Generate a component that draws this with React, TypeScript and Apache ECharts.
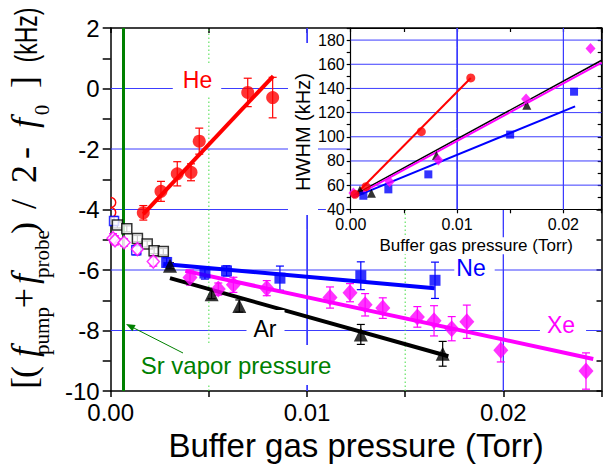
import React, { useEffect, useRef } from "react";
import * as echarts from "echarts";

const SANS = '"Liberation Sans", Arial, sans-serif';
const SERIF = '"Liberation Serif", "Times New Roman", serif';

// ---------- main plot: line-centre shift (kHz) vs buffer gas pressure (Torr) ----------
const heP = [0.00166, 0.00256, 0.00339, 0.00409, 0.00451, 0.00698, 0.00825];
const heShift = [-4.11, -3.4, -2.82, -2.77, -1.74, -0.13, -0.3];
const heErr = [0.24, 0.33, 0.4, 0.28, 0.43, 0.47, 0.67];
const heFitP = [0.00166, 0.00828];
const heFitShift = [-4.15, 0.41];

const neP = [0.00285, 0.0048, 0.0059, 0.00862, 0.01274, 0.01652];
const neShift = [-5.75, -6.1, -6.03, -6.27, -6.19, -6.34];
const neErr = [0.15, 0.2, 0.17, 0.4, 0.46, 0.6];
const neFitP = [0.00268, 0.0165];
const neFitShift = [-5.8, -6.6];

const xeP = [0.00404, 0.00548, 0.00625, 0.00795, 0.01117, 0.01219, 0.01296, 0.01386, 0.01562, 0.01647, 0.01737, 0.01814, 0.01987, 0.02421];
const xeShift = [-6.25, -6.63, -6.49, -6.6, -6.91, -6.75, -7.15, -7.26, -7.55, -7.68, -7.94, -7.71, -8.65, -9.34];
const xeErr = [0.25, 0.2, 0.25, 0.25, 0.35, 0.3, 0.37, 0.34, 0.34, 0.5, 0.4, 0.55, 0.39, 0.6];
const xeFitP = [0.0038, 0.02458];
const xeFitShift = [-6.03, -8.94];

const arP = [0.00302, 0.00514, 0.00655, 0.01274, 0.01691];
const arShift = [-5.86, -6.8, -7.19, -8.13, -8.77];
const arErr = [0.1, 0.15, 0.2, 0.33, 0.41];
const arFitP = [0.00302, 0.0172];
const arFitShift = [-6.27, -8.85];

// low-pressure open symbols
const openSqP = [0.00034, 0.00082, 0.00136, 0.00186, 0.00221, 0.00268];
const openSqShift = [-4.51, -4.64, -4.96, -5.14, -5.36, -5.39];
const openSqErr = [0.1, 0.1, 0.1, 0.1, 0.1, 0.1];
const openDiaP = [0.00012, 0.00022, 0.00068, 0.00136, 0.00217];
const openDiaShift = [-4.95, -5.02, -5.09, -5.31, -5.72];
const openDiaErr = [0.15, 0.15, 0.12, 0.15, 0.15];
const openBlueP = [0.00017, 0.0013];
const openBlueShift = [-4.38, -5.35];
const openBlueErr = [0.15, 0.15];
const openRedP = [0, 0];
const openRedShift = [-3.77, -4.1];

const srVaporP = 0.00064;

// axis ranges and grid lines
const mainXRange = [0, 0.025];
const mainYRange = [-10, 2];
const mainHGrid = [0, -2, -4, -6, -8];
const mainVGridSolid = [0.01, 0.02];
const mainVGridDotted = [0.005, 0.015];

// ---------- inset: HWHM (kHz) vs buffer gas pressure (Torr) ----------
const inHeP = [0.0004, 0.00144, 0.00664, 0.01129];
const inHeW = [52.4, 58.7, 104.2, 148.7];
const inHeFitP = [0.00025, 0.01129];
const inHeFitW = [50.4, 148.6];
const inNeP = [0.00119, 0.00354, 0.0073, 0.01499, 0.021];
const inNeW = [51.2, 56.5, 68.9, 101.8, 137.3];
const inNeFitP = [0.00025, 0.0211];
const inNeFitW = [49.9, 125.2];
const inXeP = [0.00025, 0.00366, 0.00824, 0.01649, 0.02255];
const inXeW = [53.5, 62.8, 80.8, 131.2, 173.1];
const inXeFitP = [0.00025, 0.0236];
const inXeFitW = [50, 161.3];
const inArP = [0.00087, 0.00195, 0.00806, 0.01656];
const inArW = [56, 53.2, 84.5, 126];
const inArFitP = [0.00025, 0.0236];
const inArFitW = [51.5, 163.3];
const inXRange = [0, 0.0236];
const inYRange = [40, 190];
const inHGrid = [60, 80, 100, 120, 140, 160, 180];
const inVGrid = [0.01, 0.02];

const RED = "#ff0000";
const BLUE = "#0000ff";
const MAG = "#ff00ff";
const BLK = "#000000";
const GREEN = "#008000";
const GRID_BLUE = "#3c3cff";
const GRID_GREEN = "#44dd44";

const zip2 = (a: number[], b: number[]) => a.map((v, i) => [v, b[i]]);
const zip3 = (a: number[], b: number[], c: number[]) => a.map((v, i) => [v, b[i], c[i]]);

const xLabel = (v: number) => {
  const r = Math.round(v * 100000) / 100000;
  return Math.abs(r * 100 - Math.round(r * 100)) < 1e-6 ? r.toFixed(2) : "";
};

function errBars(xs: number[], ys: number[], es: number[], color: string, z: number) {
  return {
    type: "custom",
    xAxisIndex: 0,
    yAxisIndex: 0,
    z,
    silent: true,
    data: zip3(xs, ys, es),
    encode: { x: 0, y: 1 },
    renderItem: (_p: any, api: any) => {
      const x = api.value(0);
      const y = api.value(1);
      const e = api.value(2);
      const t = api.coord([x, y + e]);
      const b = api.coord([x, y - e]);
      const c = 4;
      const style = { stroke: color, lineWidth: 1.2 };
      return {
        type: "group",
        children: [
          { type: "line", shape: { x1: t[0], y1: t[1], x2: b[0], y2: b[1] }, style },
          { type: "line", shape: { x1: t[0] - c, y1: t[1], x2: t[0] + c, y2: t[1] }, style },
          { type: "line", shape: { x1: b[0] - c, y1: b[1], x2: b[0] + c, y2: b[1] }, style },
        ],
      };
    },
  };
}

// solid vertical grid lines, drawn like the error-bar strokes
function vGridBars(ai: number, xs: number[], yr: number[], z: number) {
  return {
    type: "custom",
    xAxisIndex: ai,
    yAxisIndex: ai,
    z,
    silent: true,
    clip: false,
    data: xs.map((x) => [x, yr[0], yr[1]]),
    encode: { x: 0, y: [1, 2] },
    renderItem: (_p: any, api: any) => {
      const x = api.value(0);
      const a = api.coord([x, api.value(1)]);
      const b = api.coord([x, api.value(2)]);
      return {
        type: "group",
        children: [
          { type: "line", shape: { x1: a[0], y1: a[1], x2: b[0], y2: b[1] }, style: { stroke: GRID_BLUE, lineWidth: 1.1 } },
        ],
      };
    },
  };
}

// grid lines given as [x1, y1, x2, y2, styleIndex] in data units
// 0 solid blue, 1 dotted green, 2 blue drawn with a near-solid dash pattern
function gridSeries(ai: number, z: number, segs: number[][]) {
  return {
    type: "custom",
    xAxisIndex: ai,
    yAxisIndex: ai,
    z,
    silent: true,
    clip: false,
    data: segs,
    encode: { x: [0, 2], y: [1, 3] },
    renderItem: (_p: any, api: any) => {
      const a = api.coord([api.value(0), api.value(1)]);
      const b = api.coord([api.value(2), api.value(3)]);
      const s = api.value(4);
      let style: any = { stroke: GRID_BLUE, lineWidth: 1 };
      if (s === 1) style = { stroke: GRID_GREEN, lineWidth: 1, lineDash: [1.5, 2.5] };
      if (s === 2) style = { stroke: GRID_BLUE, lineWidth: 1, lineDash: [40, 0.4] };
      return {
        type: "line",
        shape: { x1: a[0], y1: a[1], x2: b[0], y2: b[1] },
        style,
      };
    },
  };
}

// open circles sitting on the left frame: only their right halves show
function halfCircles(xs: number[], ys: number[], color: string, z: number) {
  return {
    type: "custom",
    xAxisIndex: 0,
    yAxisIndex: 0,
    z,
    silent: true,
    data: zip2(xs, ys),
    encode: { x: 0, y: 1 },
    renderItem: (_p: any, api: any) => {
      const c = api.coord([api.value(0), api.value(1)]);
      return {
        type: "arc",
        shape: { cx: c[0], cy: c[1], r: 5, startAngle: -Math.PI / 2, endAngle: Math.PI / 2, clockwise: true },
        style: { stroke: color, fill: null, lineWidth: 1.5 },
      };
    },
  };
}

function scatter(xs: number[], ys: number[], symbol: string, size: any, color: string, opts: any = {}) {
  return {
    type: "scatter",
    xAxisIndex: opts.inset ? 2 : 0,
    yAxisIndex: opts.inset ? 2 : 0,
    symbol,
    symbolSize: size,
    z: opts.z ?? 4,
    silent: true,
    data: zip2(xs, ys),
    itemStyle: opts.hollow
      ? { color: "#ffffff", borderColor: color, borderWidth: 1.5 }
      : { color, borderWidth: 0 },
  };
}

function fitLine(xs: number[], ys: number[], color: string, width: number, opts: any = {}) {
  return {
    type: "line",
    xAxisIndex: opts.inset ? 2 : 0,
    yAxisIndex: opts.inset ? 2 : 0,
    data: zip2(xs, ys),
    showSymbol: false,
    symbol: "none",
    z: opts.z ?? 3,
    silent: true,
    lineStyle: { color, width, cap: "butt" },
  };
}

function vMarkLines(ai: number, xs: number[], color: string, width: number, z: number) {
  return {
    type: "line",
    xAxisIndex: ai,
    yAxisIndex: ai,
    data: [],
    z,
    silent: true,
    markLine: {
      z,
      silent: true,
      precision: 8,
      symbol: ["none", "none"],
      label: { show: false },
      animation: false,
      data: xs.map((x) => ({ xAxis: x, lineStyle: { color, width, type: "solid" } })),
    },
  };
}

function buildOption() {
  const axisLineStyle = { color: BLK, width: 1.5 };
  const inAxisLineStyle = { color: BLK, width: 1.2 };

  // y-axis title pieces (rotated); positions are layout only
  const yTitle: any[] = [
    { t: "[", y: 383, x: 24, s: 36 },
    { t: "(", y: 372, x: 24, s: 36 },
    { t: "f", y: 352, x: 24, s: 36, it: true },
    { t: "pump", y: 331, x: 42, s: 21 },
    { t: "+", y: 298, x: 24, s: 36 },
    { t: "f", y: 279, x: 24, s: 36, it: true },
    { t: "probe", y: 254, x: 42, s: 21 },
    { t: ")", y: 228, x: 24, s: 36 },
    { t: "/", y: 204, x: 24, s: 36 },
    { t: "2", y: 174, x: 24, s: 36 },
    { t: "-", y: 153, x: 24, s: 36 },
    { t: "f", y: 123, x: 24, s: 36, it: true },
    { t: "0", y: 110, x: 42, s: 21 },
    { t: "]", y: 82, x: 24, s: 36 },
    { t: "(kHz)", y: 35, x: 26, s: 32, sans: true, sx: 0.72 },
  ];

  // arrow for Sr vapor pressure
  const tail = [183, 353];
  const head = [126, 324];
  const dx = head[0] - tail[0];
  const dy = head[1] - tail[1];
  const len = Math.hypot(dx, dy);
  const ux = dx / len, uy = dy / len;
  const nx = -uy, ny = ux;
  const hl = 9, hw = 3.5;
  const base = [head[0] - hl * ux, head[1] - hl * uy];

  const label = (text: string, x: number, y: number, color: string, padding: number[], size = 23) => ({
    type: "text",
    x,
    y,
    z: 10,
    silent: true,
    style: {
      text,
      fill: color,
      fontSize: size,
      fontFamily: SANS,
      align: "center",
      verticalAlign: "middle",
      textAlign: "center",
      textVerticalAlign: "middle",
      backgroundColor: "#ffffff",
      padding,
    },
  });

  const hSegs = (vals: number[], xr: number[], s: number) => vals.map((v) => [xr[0], v, xr[1], v, s]);
  const vSegs = (vals: number[], yr: number[], s: number) => vals.map((v) => [v, yr[0], v, yr[1], s]);

  return {
    animation: false,
    backgroundColor: "#ffffff",
    textStyle: { fontFamily: SANS },
    grid: [
      { left: 110.7, right: 1.5, top: 28, bottom: 73, containLabel: false, outerBoundsMode: "none" },
      { left: 350.7, right: 1.3, top: 28, bottom: 254.7, containLabel: false, outerBoundsMode: "none" },
    ],
    xAxis: [
      {
        type: "value",
        gridIndex: 0,
        position: "bottom",
        min: mainXRange[0],
        max: mainXRange[1],
        interval: 0.005,
        axisLine: { show: true, onZero: false, lineStyle: axisLineStyle },
        axisTick: { show: true, length: 6, lineStyle: axisLineStyle },
        axisLabel: { formatter: xLabel, fontSize: 24, color: BLK, fontFamily: SANS, margin: 9 },
        splitLine: { show: false },
        name: "Buffer gas pressure (Torr)",
        nameLocation: "middle",
        nameGap: 37.5,
        nameTextStyle: { fontSize: 33, color: BLK, fontFamily: SANS },
      },
      {
        type: "value",
        gridIndex: 0,
        position: "top",
        min: mainXRange[0],
        max: mainXRange[1],
        interval: 0.005,
        axisLine: { show: true, onZero: false, lineStyle: axisLineStyle },
        axisTick: { show: true, inside: true, length: 5, lineStyle: axisLineStyle },
        axisLabel: { show: false },
        splitLine: { show: false },
      },
      {
        type: "value",
        gridIndex: 1,
        position: "bottom",
        min: inXRange[0],
        max: inXRange[1],
        interval: 0.005,
        z: 13,
        axisLine: { show: true, onZero: false, lineStyle: inAxisLineStyle },
        axisTick: { show: true, length: 4, lineStyle: inAxisLineStyle },
        axisLabel: {
          formatter: xLabel,
          fontSize: 16,
          color: BLK,
          fontFamily: SANS,
          margin: 7,
          backgroundColor: "#ffffff",
          padding: [0, 1, 0, 1],
        },
        splitLine: { show: false },
        name: "Buffer gas pressure (Torr)",
        nameLocation: "middle",
        nameGap: 28,
        nameTextStyle: {
          fontSize: 17,
          color: BLK,
          fontFamily: SANS,
          backgroundColor: "#ffffff",
          padding: [0, 2, 0, 2],
        },
      },
      {
        type: "value",
        gridIndex: 1,
        position: "top",
        min: inXRange[0],
        max: inXRange[1],
        interval: 0.005,
        z: 13,
        axisLine: { show: true, onZero: false, lineStyle: inAxisLineStyle },
        axisTick: { show: true, inside: true, length: 4, lineStyle: inAxisLineStyle },
        axisLabel: { show: false },
        splitLine: { show: false },
      },
    ],
    yAxis: [
      {
        type: "value",
        gridIndex: 0,
        position: "left",
        min: mainYRange[0],
        max: mainYRange[1],
        interval: 1,
        axisLine: { show: true, onZero: false, lineStyle: axisLineStyle },
        axisTick: { show: true, length: 8, lineStyle: axisLineStyle },
        axisLabel: {
          formatter: (v: number) => (Math.round(v) % 2 === 0 ? String(Math.round(v)) : ""),
          fontSize: 24,
          color: BLK,
          fontFamily: SANS,
          margin: 11,
        },
        splitLine: { show: false },
      },
      {
        type: "value",
        gridIndex: 0,
        position: "right",
        min: mainYRange[0],
        max: mainYRange[1],
        interval: 1,
        axisLine: { show: true, onZero: false, lineStyle: axisLineStyle },
        axisTick: { show: true, inside: true, length: 5, lineStyle: axisLineStyle },
        axisLabel: { show: false },
        splitLine: { show: false },
      },
      {
        type: "value",
        gridIndex: 1,
        position: "left",
        min: inYRange[0],
        max: inYRange[1],
        interval: 10,
        z: 13,
        axisLine: { show: true, onZero: false, lineStyle: inAxisLineStyle },
        axisTick: { show: true, length: 4, lineStyle: inAxisLineStyle },
        axisLabel: {
          formatter: (v: number) => (Math.round(v) % 20 === 0 ? String(Math.round(v)) : ""),
          fontSize: 16,
          color: BLK,
          fontFamily: SANS,
          margin: 5,
          backgroundColor: "#ffffff",
          padding: [0, 1, 0, 1],
        },
        splitLine: { show: false },
      },
      {
        type: "value",
        gridIndex: 1,
        position: "right",
        min: inYRange[0],
        max: inYRange[1],
        interval: 10,
        z: 13,
        axisLine: { show: true, onZero: false, lineStyle: inAxisLineStyle },
        axisTick: { show: true, inside: true, length: 4, lineStyle: inAxisLineStyle },
        axisLabel: { show: false },
        splitLine: { show: false },
      },
    ],
    graphic: [
      // white boxes behind the inset (cover main grid lines)
      { type: "rect", z: 12, silent: true, shape: { x: 288, y: 43, width: 30, height: 172 }, style: { fill: "#ffffff" } },
      { type: "rect", z: 12, silent: true, shape: { x: 350.7, y: 28, width: 251, height: 181.3 }, style: { fill: "#ffffff" } },
      {
        type: "text",
        x: 303,
        y: 132,
        rotation: Math.PI / 2,
        z: 16,
        silent: true,
        style: {
          text: "HWHM (kHz)",
          fill: BLK,
          fontSize: 20,
          fontFamily: SANS,
          align: "center",
          verticalAlign: "middle",
          textAlign: "center",
          textVerticalAlign: "middle",
        },
      },
      label("He", 197, 79.5, RED, [4, 9, 4, 10]),
      label("Ne", 474.5, 267.5, BLUE, [0, 9, 2, 2]),
      label("Xe", 563, 324.5, MAG, [4, 11, 4, 7]),
      label("Ar", 265.5, 329, BLK, [11, 8, 4, 7]),
      label("Sr vapor pressure", 236, 365, GREEN, [8, 5, 8, 5], 24),
      {
        type: "line",
        z: 11,
        silent: true,
        shape: { x1: tail[0], y1: tail[1], x2: base[0], y2: base[1] },
        style: { stroke: GREEN, lineWidth: 1 },
      },
      {
        type: "polygon",
        z: 11,
        silent: true,
        shape: {
          points: [
            [head[0], head[1]],
            [base[0] + hw * nx, base[1] + hw * ny],
            [base[0] - hw * nx, base[1] - hw * ny],
          ],
        },
        style: { fill: GREEN },
      },
      ...yTitle.map((p) => ({
        type: "text",
        x: p.x,
        y: p.y,
        rotation: Math.PI / 2,
        scaleX: p.sx ?? 1,
        z: 10,
        silent: true,
        style: {
          text: p.t,
          fill: BLK,
          fontSize: p.s,
          fontFamily: p.sans ? SANS : SERIF,
          fontStyle: p.it ? "italic" : "normal",
          align: "center",
          verticalAlign: "middle",
          textAlign: "center",
          textVerticalAlign: "middle",
        },
      })),
    ],
    series: [
      // main grid lines (horizontal, dotted verticals, blue verticals)
      gridSeries(0, 1, [
        ...hSegs(mainHGrid, mainXRange, 0),
        ...vSegs(mainVGridDotted, mainYRange, 1),
        ...vSegs(mainVGridSolid, mainYRange, 2),
      ]),
      vGridBars(0, mainVGridSolid, mainYRange, 2),
      vMarkLines(0, mainVGridSolid, GRID_BLUE, 1, 2),
      // Sr vapor pressure line
      vMarkLines(0, [srVaporP], GREEN, 3, 2),
      // error bars
      errBars(openBlueP, openBlueShift, openBlueErr, BLUE, 2),
      errBars(openSqP, openSqShift, openSqErr, BLK, 2),
      errBars(openDiaP, openDiaShift, openDiaErr, MAG, 2),
      errBars(heP, heShift, heErr, RED, 2),
      errBars(neP, neShift, neErr, BLUE, 2),
      errBars(xeP, xeShift, xeErr, MAG, 2),
      errBars(arP, arShift, arErr, BLK, 2),
      // fits
      fitLine(heFitP, heFitShift, RED, 4),
      fitLine(neFitP, neFitShift, BLUE, 4),
      fitLine(xeFitP, xeFitShift, MAG, 4),
      fitLine(arFitP, arFitShift, BLK, 4),
      // open symbols
      halfCircles(openRedP, openRedShift, RED, 4),
      scatter(openBlueP, openBlueShift, "rect", 9, BLUE, { hollow: true }),
      scatter(openSqP, openSqShift, "rect", 10, BLK, { hollow: true }),
      scatter(openDiaP, openDiaShift, "diamond", [12, 13], MAG, { hollow: true }),
      // filled symbols
      scatter(heP, heShift, "circle", 13, RED),
      scatter(neP, neShift, "rect", 11, BLUE),
      scatter(xeP, xeShift, "diamond", [15, 17], MAG),
      scatter(arP, arShift, "triangle", 14, BLK),
      // inset grid lines
      gridSeries(2, 14, [...hSegs(inHGrid, inXRange, 0), ...vSegs(inVGrid, inYRange, 2)]),
      vGridBars(2, inVGrid, inYRange, 14),
      vMarkLines(2, inVGrid, GRID_BLUE, 1, 14),
      // inset fits
      fitLine(inHeFitP, inHeFitW, RED, 2, { inset: true, z: 15 }),
      fitLine(inNeFitP, inNeFitW, BLUE, 2, { inset: true, z: 15 }),
      fitLine(inArFitP, inArFitW, BLK, 1.5, { inset: true, z: 15 }),
      fitLine(inXeFitP, inXeFitW, MAG, 2, { inset: true, z: 15 }),
      // inset symbols
      scatter(inArP, inArW, "triangle", 9, BLK, { inset: true, z: 16 }),
      scatter(inNeP, inNeW, "rect", 8, BLUE, { inset: true, z: 16 }),
      scatter(inXeP, inXeW, "diamond", [10, 11], MAG, { inset: true, z: 16 }),
      scatter(inHeP, inHeW, "circle", 9, RED, { inset: true, z: 16 }),
    ],
  };
}

export default function App() {
  const ref = useRef<HTMLDivElement>(null);
  useEffect(() => {
    if (!ref.current) return;
    const chart = echarts.init(ref.current, undefined, { renderer: "svg" });
    chart.setOption(buildOption() as any);
    return () => chart.dispose();
  }, []);
  return (
    <div
      ref={ref}
      style={{ position: "fixed", left: 0, top: 0, width: 603, height: 464, background: "#ffffff" }}
    />
  );
}
